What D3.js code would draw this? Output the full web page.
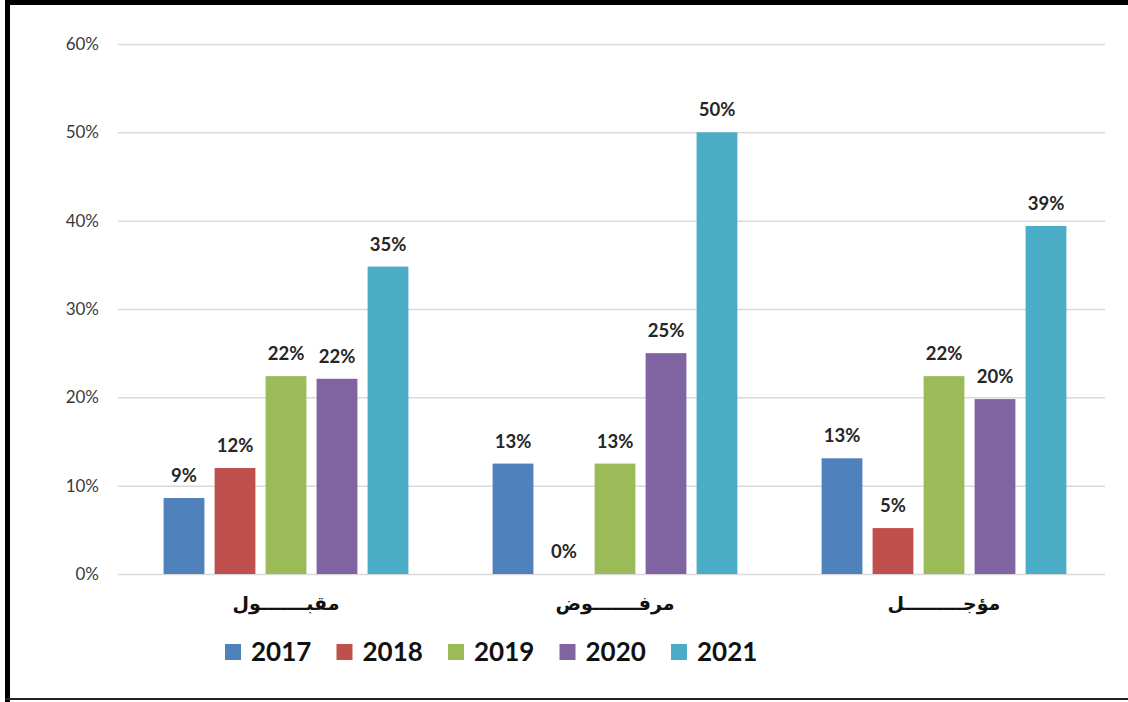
<!DOCTYPE html>
<html>
<head>
<meta charset="utf-8">
<script src="https://cdn.jsdelivr.net/npm/d3@7"></script>
<style>
  body { margin: 0; background: #fff; }
  svg { display: block; }
</style>
</head>
<body>
<svg id="chart"></svg>
<script>
// data
const categories = ['مقبـــــــول', 'مرفـــــــوض', 'مؤجـــــــــل'];
const years = ['2017', '2018', '2019', '2020', '2021'];
const values2017 = [8.6, 12.5, 13.1];
const values2018 = [12.0, 0, 5.2];
const values2019 = [22.4, 12.5, 22.4];
const values2020 = [22.1, 25.0, 19.8];
const values2021 = [34.8, 50.0, 39.4];
const yTicks = [0, 10, 20, 30, 40, 50, 60];
const colors = ['#4f81bd', '#c0504d', '#9bbb59', '#8064a2', '#4bacc6'];

const seriesValues = [values2017, values2018, values2019, values2020, values2021];

const config = {
  width: 1128,
  height: 702,
  margin: { top: 44, right: 23, bottom: 128, left: 118 }
};

const width = config.width - config.margin.left - config.margin.right;
const height = config.height - config.margin.top - config.margin.bottom;

const svg = d3.select('#chart')
  .attr('width', config.width)
  .attr('height', config.height);

// outer frame (left, top and bottom edges show in the picture)
svg.append('line').attr('x1', 7.5).attr('x2', 7.5).attr('y1', 0).attr('y2', 702)
  .attr('stroke', '#000').attr('stroke-width', 5);
svg.append('line').attr('x1', 5).attr('x2', 1128).attr('y1', 2.5).attr('y2', 2.5)
  .attr('stroke', '#000').attr('stroke-width', 5);
svg.append('line').attr('x1', 5).attr('x2', 1128).attr('y1', 699).attr('y2', 699)
  .attr('stroke', '#222').attr('stroke-width', 2);

const chart = svg.append('g')
  .attr('transform', `translate(${config.margin.left},${config.margin.top})`);

// Scales
const x0 = d3.scaleBand()
  .domain(categories)
  .range([0, width])
  .padding(0);

// bars sit a little right of the band centre in the picture
const groupWidth = 255;
const groupShift = 3.5;
const x1 = d3.scaleBand()
  .domain(years)
  .range([(x0.bandwidth() - groupWidth) / 2 + groupShift, (x0.bandwidth() + groupWidth) / 2 + groupShift])
  .paddingInner(0.2)
  .paddingOuter(0.1);

const y = d3.scaleLinear()
  .domain([0, 60])
  .range([height, 0]);

// Gridlines + y axis
const yAxis = d3.axisLeft(y)
  .tickValues(yTicks)
  .tickSize(-width)
  .tickPadding(19)
  .tickFormat(d => d + '%');

chart.append('g')
  .call(yAxis)
  .call(g => g.select('.domain').remove())
  .call(g => g.selectAll('.tick line').attr('stroke', '#d9d9d9').attr('stroke-width', 1.5))
  .call(g => g.selectAll('.tick text')
    .attr('font-family', 'Lato, sans-serif')
    .attr('font-size', 17)
    .attr('fill', '#3a3a3a'));

// Bars
const groups = chart.selectAll('.group')
  .data(categories)
  .join('g')
  .attr('class', 'group')
  .attr('transform', d => `translate(${x0(d)},0)`);

const cells = groups.selectAll('.cell')
  .data((d, i) => years.map((yr, j) => ({ year: yr, value: seriesValues[j][i], color: colors[j] })))
  .join('g')
  .attr('class', 'cell');

cells.append('rect')
  .attr('x', d => x1(d.year))
  .attr('y', d => y(d.value))
  .attr('width', x1.bandwidth())
  .attr('height', d => height - y(d.value))
  .attr('fill', d => d.color);

// Data labels
cells.append('text')
  .attr('x', d => x1(d.year) + x1.bandwidth() / 2)
  .attr('y', d => y(d.value) - 16)
  .attr('text-anchor', 'middle')
  .attr('font-family', 'Lato, sans-serif')
  .attr('font-weight', 'bold')
  .attr('font-size', 18.5)
  .attr('fill', '#262626')
  .text(d => Math.round(d.value) + '%');

// Category labels
chart.selectAll('.cat-label')
  .data(categories)
  .join('text')
  .attr('class', 'cat-label')
  .attr('x', d => x0(d) + x0.bandwidth() / 2 + groupShift)
  .attr('y', height + 36)
  .attr('text-anchor', 'middle')
  .attr('font-family', '"DejaVu Sans", sans-serif')
  .attr('font-weight', 'bold')
  .attr('font-size', 19)
  .attr('fill', '#111')
  .text(d => d);

// Legend
const legend = svg.append('g')
  .attr('transform', 'translate(225,0)');

const legendItems = legend.selectAll('.legend-item')
  .data(years)
  .join('g')
  .attr('class', 'legend-item')
  .attr('transform', (d, i) => `translate(${i * 111.5},0)`);

legendItems.append('rect')
  .attr('x', 0)
  .attr('y', 644)
  .attr('width', 16)
  .attr('height', 16)
  .attr('fill', (d, i) => colors[i]);

legendItems.append('text')
  .attr('x', 26)
  .attr('y', 661)
  .attr('font-family', 'Lato, sans-serif')
  .attr('font-weight', 'bold')
  .attr('font-size', 26)
  .attr('fill', '#111')
  .text(d => d);
</script>
</body>
</html>
